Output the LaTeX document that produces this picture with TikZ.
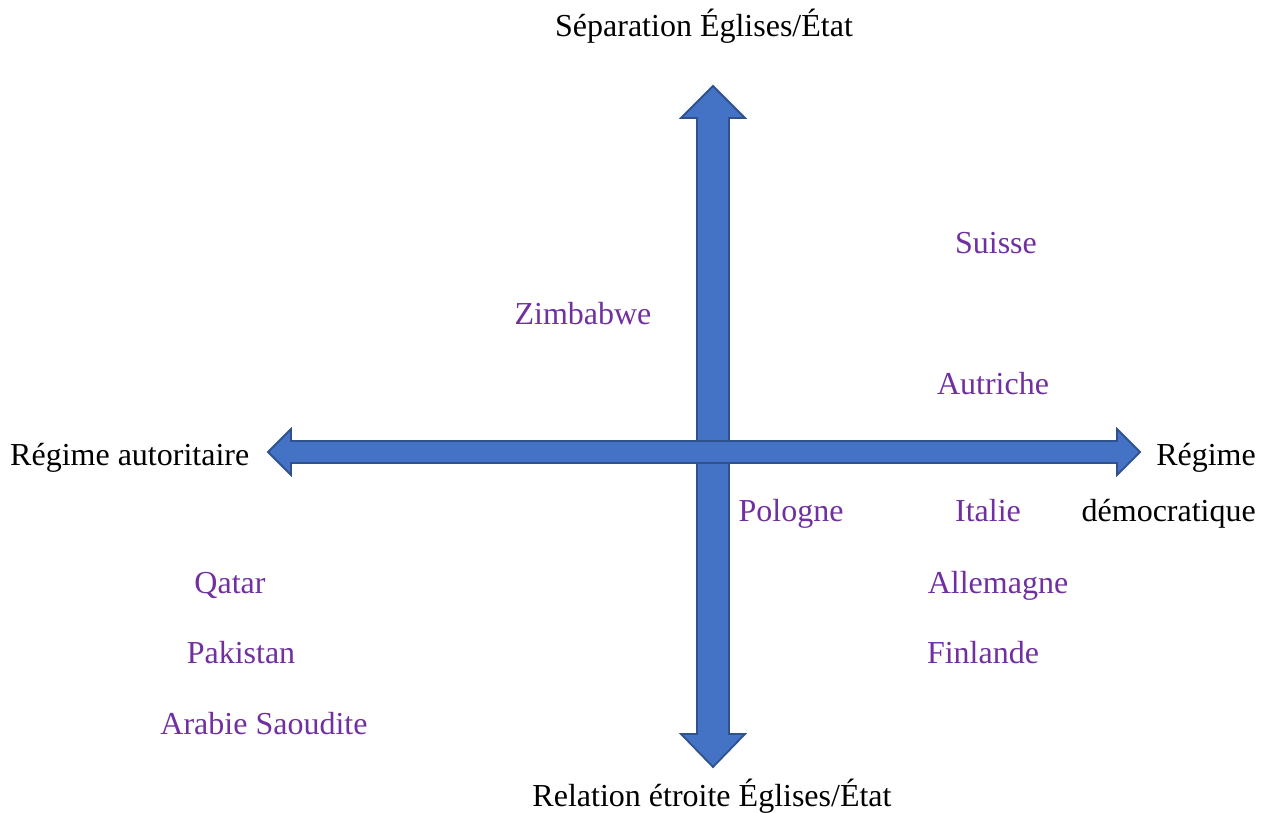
\documentclass[tikz,border=0pt]{standalone}
\usepackage{fontspec}
\setmainfont{Liberation Serif}
\usepackage{tikz}
\usetikzlibrary{positioning}

\definecolor{axisfill}{HTML}{4472C4}
\definecolor{axisline}{HTML}{2F528F}
\definecolor{pays}{HTML}{7030A0}

\begin{document}
\begin{tikzpicture}[x=1pt, y=-1pt,
    axe/.style={fill=axisfill, draw=axisline, line width=1.8pt, line join=miter},
    titre/.style={font=\fontsize{32}{56}\selectfont, inner sep=0pt, anchor=base},
    pays/.style={titre, text=pays}]
    \useasboundingbox (0,0) rectangle (1269,812);
    \draw[axe] (697,118) -- (681,118) -- (713,86) -- (745,118) -- (729,118) -- (729,734)
        -- (745,734) -- (713,767) -- (681,734) -- (697,734) -- cycle;
    \draw[axe] (291,441) -- (291,429) -- (268,452) -- (291,475) -- (291,463) -- (1117,463)
        -- (1117,475) -- (1140,452) -- (1117,429) -- (1117,441) -- cycle;
    \node[titre] (separation) at (704,36) {Séparation Églises/État};
    \node[titre] (relation) at (712,806) {Relation étroite Églises/État};
    \node[titre, anchor=base west] (autoritaire) at (10,465) {Régime autoritaire};
    \node[titre, anchor=base east, align=right] (democratique) at (1256,521) {Régime\\démocratique};
    \node[pays] (suisse) at (996,253) {Suisse};
    \node[pays] (zimbabwe) at (583,324) {Zimbabwe};
    \node[pays] (autriche) at (993,394) {Autriche};
    \node[pays] (pologne) at (791,521) {Pologne};
    \node[pays] (italie) at (988,521) {Italie};
    \node[pays] (qatar) at (230,593) {Qatar};
    \node[pays] (allemagne) at (998,593) {Allemagne};
    \node[pays] (pakistan) at (241,663) {Pakistan};
    \node[pays] (finlande) at (983,663) {Finlande};
    \node[pays] (arabie) at (264,734) {Arabie Saoudite};
\end{tikzpicture}
\end{document}
